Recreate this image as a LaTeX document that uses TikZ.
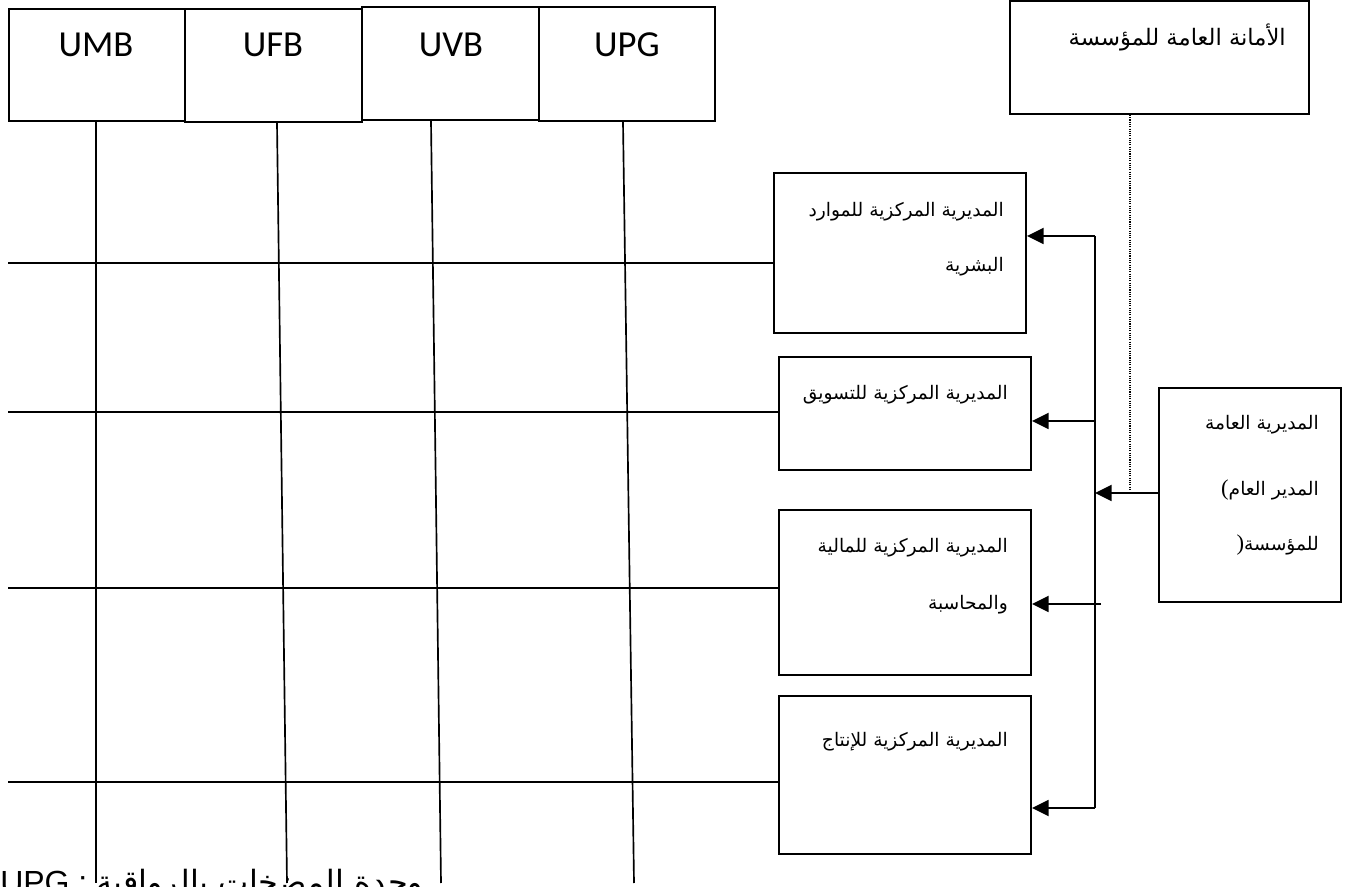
\documentclass[tikz,border=0pt]{standalone}
\usepackage{fontspec}
\setmainfont{Liberation Serif}
\newfontfamily\arfont[Script=Arabic]{DejaVu Sans}
\newfontfamily\calfont{Carlito}
\newfontfamily\arialfont{Liberation Sans}
\TeXXeTstate=1
\usetikzlibrary{arrows.meta,fit,calc}
\begin{document}
\begin{tikzpicture}[x=0.75pt,y=-0.75pt,
  box/.style={draw, line width=1.4pt, inner sep=0pt, rectangle},
  ln/.style={line width=1.25pt},
  arr/.style={line width=1.4pt, -{Triangle[length=12.5pt,width=12pt]}},
  dotln/.style={line width=0.8pt, dash pattern=on 0.8pt off 0.9pt},
  unittxt/.style={inner sep=0pt, font=\calfont\fontsize{27.5}{32}\selectfont},
  artxt/.style={inner sep=0pt, anchor=east, font=\arfont\fontsize{14}{18}\selectfont},
]
\useasboundingbox (0,0) rectangle (1354,887);
\fill[white] (0,0) rectangle (1354,887);

% unit boxes
\node[box, fit={(9,9) (185,121)}] (umb) {};
\node[box, fit={(185,9) (362,122)}] (ufb) {};
\node[box, fit={(362,7) (539,120)}] (uvb) {};
\node[box, fit={(539,7) (715,121)}] (upg) {};
\node[unittxt] (umbt) at (96,45) {UMB};
\node[unittxt] (ufbt) at (273,45) {UFB};
\node[unittxt] (uvbt) at (451,45) {UVB};
\node[unittxt] (upgt) at (627,45) {UPG};

% right boxes
\node[box, fit={(1010,1) (1309,114)}] (sec) {};
\node[box, fit={(774,173) (1026,333)}] (hr) {};
\node[box, fit={(779,357) (1031,470)}] (mk) {};
\node[box, fit={(779,510) (1031,675)}] (fin) {};
\node[box, fit={(779,696) (1031,854)}] (prod) {};
\node[box, fit={(1159,388) (1341,602)}] (dg) {};

% texts
\node[artxt, font=\arfont\fontsize{17}{20}\selectfont] (sect) at (1286,37) {\beginR الأمانة العامة للمؤسسة\endR};
\node[artxt] (hrt1) at (1004,212) {\beginR المديرية المركزية للموارد\endR};
\node[artxt] (hrt2) at (1004,267) {\beginR البشرية\endR};
\node[artxt] (mkt) at (1008,395) {\beginR المديرية المركزية للتسويق\endR};
\node[artxt] (fint1) at (1008,548) {\beginR المديرية المركزية للمالية\endR};
\node[artxt] (fint2) at (1008,605) {\beginR والمحاسبة\endR};
\node[artxt] (prodt) at (1008,742) {\beginR المديرية المركزية للإنتاج\endR};
\node[artxt] (dgt1) at (1319,425) {\beginR المديرية العامة\endR};
\node[artxt] (dgt2) at (1319,490) {\hbox{\rmfamily\fontsize{17}{20}\selectfont (}\hbox{\beginR المدير العام\endR}};
\node[artxt] (dgt3) at (1319,545) {\hbox{\rmfamily\fontsize{17}{20}\selectfont )}\hbox{\beginR للمؤسسة\endR}};

% bottom legend
\node[inner sep=0pt, anchor=base west] (legend) at (0,893)
  {\arialfont\fontsize{24}{28}\selectfont UPG : \arfont\beginR وحدة المضخات بالرواقية\endR};

% vertical lines from units
\coordinate (v1b) at (96,883);
\coordinate (v2b) at (287,883);
\coordinate (v3b) at (441,883);
\coordinate (v4b) at (634,883);
\draw[ln] (umb.south -| v1b) -- (v1b);
\draw[ln] (ufb.south -| 277,0) -- (v2b);
\draw[ln] (uvb.south -| 431,0) -- (v3b);
\draw[ln] (upg.south -| 623,0) -- (v4b);

% horizontal lines
\coordinate (h1) at (8,263);
\coordinate (h2) at (8,412);
\coordinate (h3) at (8,588);
\coordinate (h4) at (8,782);
\draw[ln] (h1) -- (hr.west |- h1);
\draw[ln] (h2) -- (mk.west |- h2);
\draw[ln] (h3) -- (fin.west |- h3);
\draw[ln] (h4) -- (prod.west |- h4);

% bus and arrows
\coordinate (bt) at (1095,236);
\coordinate (b2) at (1095,421);
\coordinate (b3) at (1095,493);
\coordinate (b4) at (1101,604);
\coordinate (bb) at (1095,808);
\draw[line width=1.4pt] (bt) -- (bb);
\draw[arr] (bt) -- (hr.east |- bt);
\draw[arr] (b2) -- (mk.east |- b2);
\draw[arr] (dg.west |- b3) -- (b3);
\draw[arr] (b4) -- (fin.east |- b4);
\draw[arr] (bb) -- (prod.east |- bb);

% dotted link
\coordinate (dt) at (1130,491);
\draw[dotln] (sec.south -| dt) -- (dt);
\end{tikzpicture}
\end{document}
